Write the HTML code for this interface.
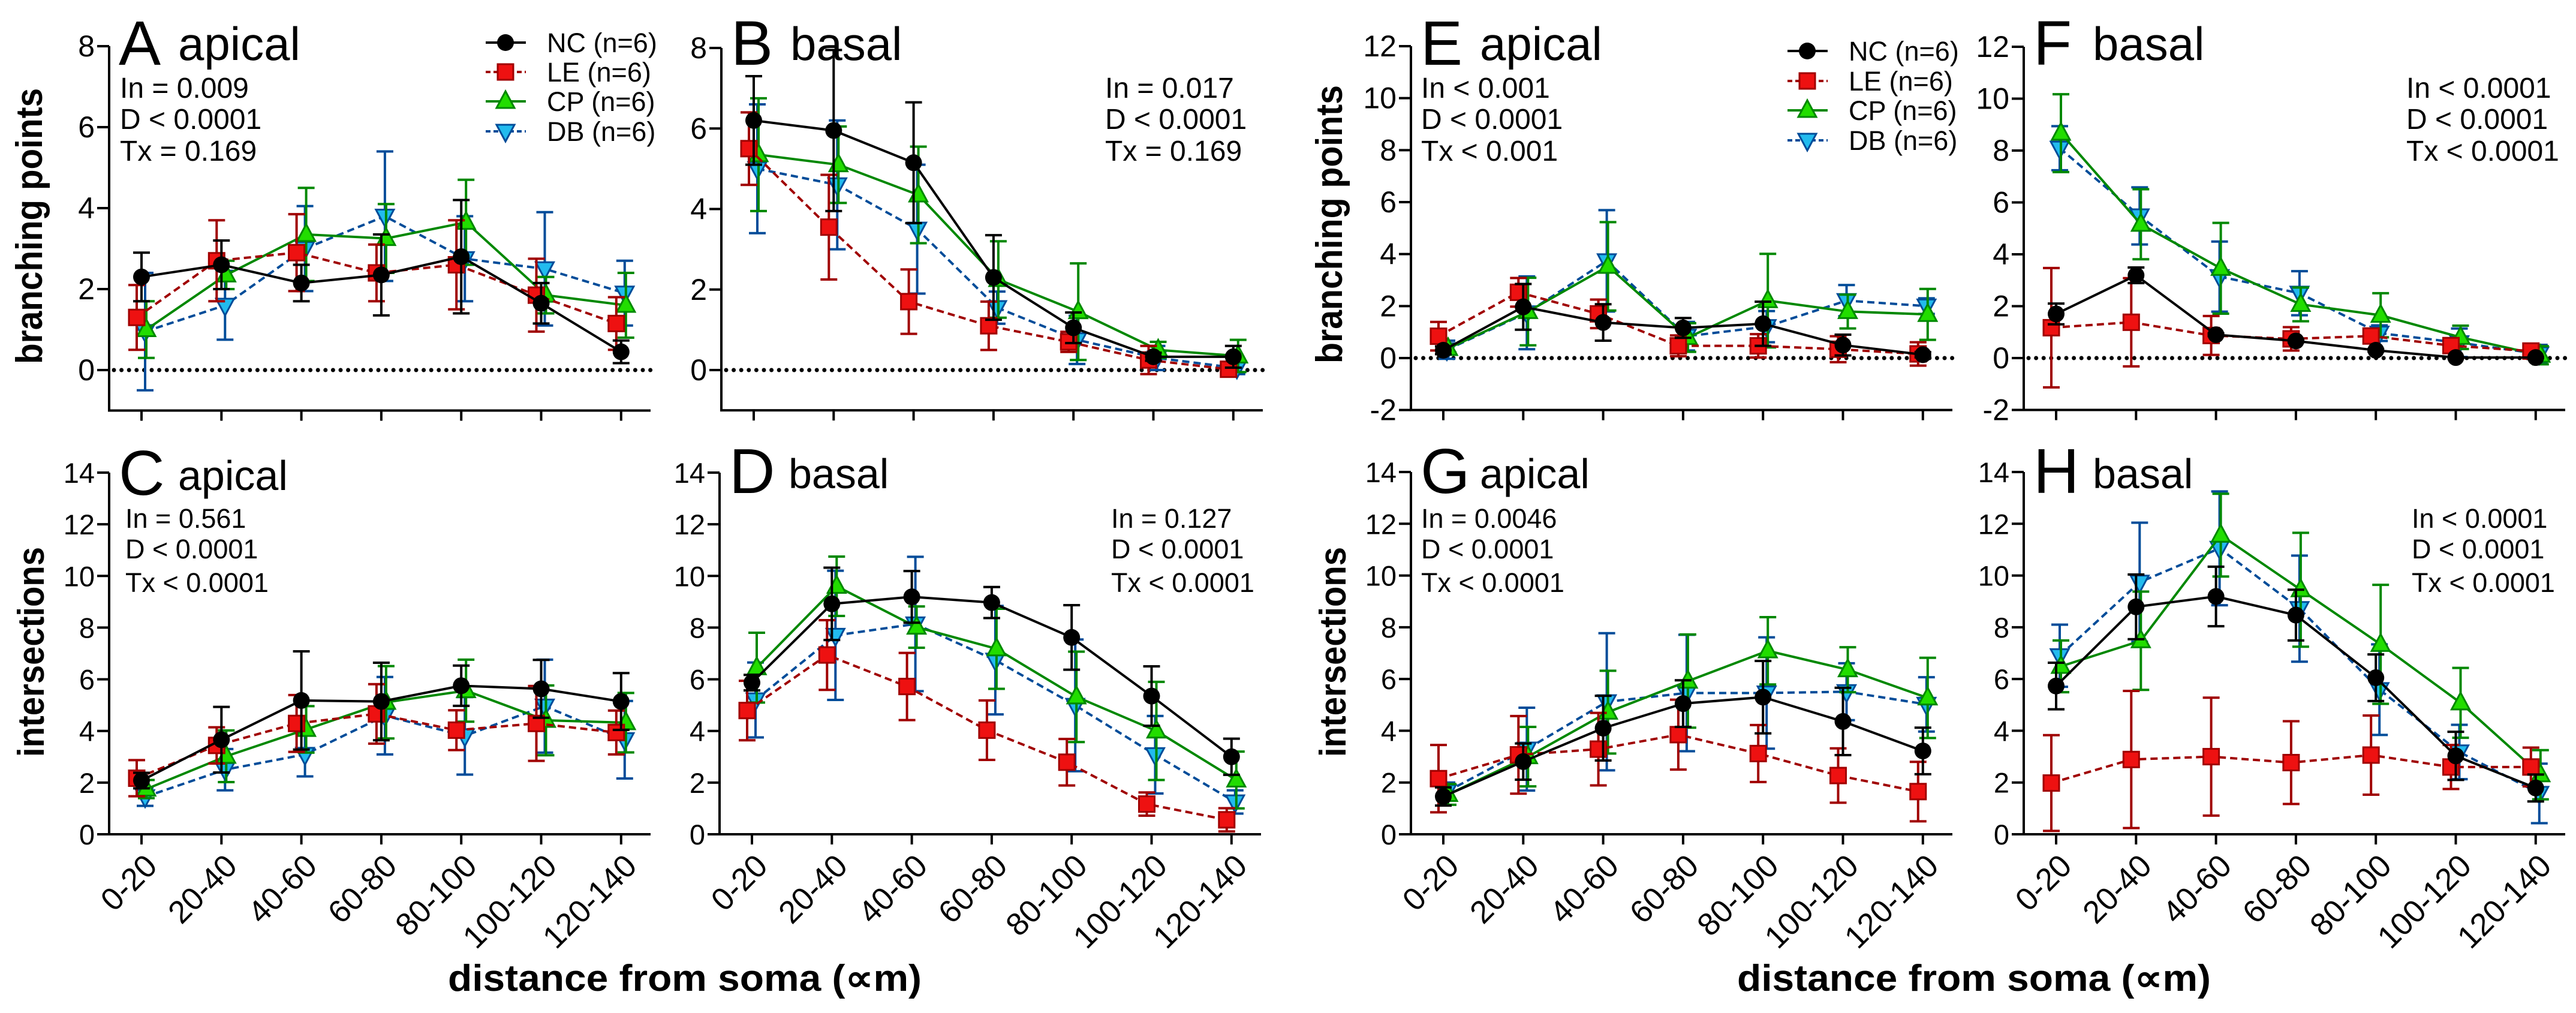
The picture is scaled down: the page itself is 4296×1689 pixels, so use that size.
<!DOCTYPE html>
<html><head><meta charset="utf-8"><style>
html,body{margin:0;padding:0;background:#fff;}
svg{display:block;}
</style></head><body>
<svg id="fig" width="4296" height="1689" viewBox="0 0 4296 1689" xmlns="http://www.w3.org/2000/svg"></svg>
<script>
const categories=["0-20","20-40","40-60","60-80","80-100","100-120","120-140"];
const seriesNames=["NC (n=6)","LE (n=6)","CP (n=6)","DB (n=6)"];
// Panel A: apical branching points
const A_NC=[2.3,2.6,2.15,2.35,2.8,1.65,0.45];const A_NC_sd=[0.6,0.6,0.45,1.0,1.4,0.5,0.28];
const A_LE=[1.3,2.7,2.9,2.4,2.6,1.85,1.15];const A_LE_sd=[0.8,1.0,0.95,0.7,1.1,0.9,0.65];
const A_CP=[1.0,2.35,3.35,3.25,3.65,1.85,1.6];const A_CP_sd=[0.7,0.35,1.15,0.85,1.05,0.45,0.8];
const A_DB=[0.95,1.6,3.0,3.8,2.75,2.5,1.9];const A_DB_sd=[1.45,0.85,1.05,1.6,1.05,1.4,0.8];
// Panel B: basal branching points
const B_NC=[6.2,5.95,5.15,2.3,1.05,0.33,0.33];const B_NC_sd=[1.1,2.0,1.5,1.05,0.38,0.1,0.27];
const B_LE=[5.5,3.55,1.7,1.1,0.7,0.25,0.02];const B_LE_sd=[0.9,1.3,0.8,0.6,0.25,0.35,0.1];
const B_CP=[5.35,5.1,4.35,2.25,1.45,0.5,0.35];const B_CP_sd=[1.4,0.95,1.2,0.95,1.2,0.2,0.4];
const B_DB=[5.0,4.6,3.5,1.55,0.75,0.3,0.05];const B_DB_sd=[1.6,1.6,1.6,0.4,0.6,0.3,0.15];
// Panel C: apical intersections
const C_NC=[2.08,3.66,5.18,5.14,5.75,5.63,5.14];const C_NC_sd=[0.3,1.27,1.9,1.5,0.78,1.12,1.1];
const C_LE=[2.17,3.44,4.29,4.66,4.03,4.29,3.94];const C_LE_sd=[0.7,0.7,1.1,1.15,0.77,1.45,0.85];
const C_CP=[1.75,3.02,4.06,5.11,5.56,4.41,4.32];const C_CP_sd=[0.35,1.0,0.9,1.4,1.2,1.35,1.15];
const C_DB=[1.45,2.5,3.09,4.59,3.81,4.96,3.66];const C_DB_sd=[0.35,0.8,0.85,1.5,1.5,1.8,1.5];
// Panel D: basal intersections
const D_NC=[5.87,8.92,9.19,8.97,7.62,5.35,3.0];const D_NC_sd=[0.3,1.4,1.0,0.6,1.25,1.15,0.7];
const D_LE=[4.79,6.94,5.72,4.03,2.79,1.17,0.56];const D_LE_sd=[1.15,1.35,1.3,1.15,0.9,0.45,0.45];
const D_CP=[6.45,9.6,8.02,7.18,5.32,4.0,2.1];const D_CP_sd=[1.35,1.15,0.8,1.55,1.75,1.9,1.1];
const D_DB=[5.2,7.7,8.14,6.74,4.99,3.08,1.25];const D_DB_sd=[1.45,2.5,2.6,2.1,2.55,1.5,0.45];
// Panel E
const E_NC=[0.3,1.97,1.37,1.16,1.32,0.5,0.13];const E_NC_sd=[0.15,0.88,0.7,0.38,0.85,0.4,0.1];
const E_LE=[0.84,2.53,1.7,0.47,0.47,0.34,0.16];const E_LE_sd=[0.55,0.55,0.55,0.4,0.45,0.5,0.45];
const E_CP=[0.37,1.79,3.53,0.79,2.21,1.79,1.68];const E_CP_sd=[0.15,1.3,1.7,0.55,1.8,0.65,0.98];
const E_DB=[0.32,1.74,3.74,0.84,1.21,2.21,2.0];const E_DB_sd=[0.35,1.4,1.95,0.55,0.6,0.6,0.3];
// Panel F
const F_NC=[1.7,3.19,0.9,0.66,0.3,0.02,0.02];const F_NC_sd=[0.4,0.3,0.05,0.05,0.05,0.02,0.02];
const F_LE=[1.17,1.38,0.87,0.74,0.85,0.48,0.27];const F_LE_sd=[2.3,1.7,0.75,0.45,0.1,0.25,0.1];
const F_CP=[8.67,5.16,3.46,2.07,1.65,0.8,0.11];const F_CP_sd=[1.5,1.35,1.75,0.65,0.85,0.45,0.35];
const F_DB=[8.09,5.48,3.14,2.5,0.96,0.59,0.16];const F_DB_sd=[0.85,1.1,1.35,0.85,0.3,0.55,0.35];
// Panel G
const G_NC=[1.46,2.81,4.1,5.05,5.3,4.36,3.22];const G_NC_sd=[0.35,0.7,1.25,0.9,1.4,1.3,0.9];
const G_LE=[2.15,3.07,3.29,3.85,3.12,2.27,1.65];const G_LE_sd=[1.3,1.5,1.4,1.35,1.1,1.05,1.15];
const G_CP=[1.54,3.0,4.72,5.92,7.09,6.36,5.27];const G_CP_sd=[0.4,1.15,1.6,1.8,1.3,0.87,1.55];
const G_DB=[1.65,3.29,5.12,5.46,5.46,5.51,5.02];const G_DB_sd=[0.35,1.6,2.65,2.25,2.15,1.1,1.05];
// Panel H
const H_NC=[5.73,8.79,9.19,8.47,6.05,3.03,1.79];const H_NC_sd=[0.9,1.25,1.15,0.98,0.9,0.93,0.52];
const H_LE=[1.98,2.89,3.0,2.77,3.06,2.6,2.6];const H_LE_sd=[1.85,2.65,2.28,1.6,1.53,0.85,0.75];
const H_CP=[6.49,7.48,11.56,9.45,7.34,5.08,2.3];const H_CP_sd=[1.0,1.9,1.6,2.2,2.3,1.35,0.95];
const H_DB=[6.9,9.74,11.05,8.72,5.59,3.18,1.58];const H_DB_sd=[1.2,2.3,2.2,2.05,1.75,1.05,1.15];
const topTicks8=[0,2,4,6,8];
const topTicks12=[-2,0,2,4,6,8,10,12];
const bottomTicks=[0,2,4,6,8,10,12,14];

const NS="http://www.w3.org/2000/svg";
const svg=document.getElementById('fig');
const NARROW='"Liberation Sans Narrow","Liberation Sans",sans-serif';
const SANS='"Liberation Sans",sans-serif';
function el(tag,attrs,parent,text){const e=document.createElementNS(NS,tag);for(const k in attrs)e.setAttribute(k,attrs[k]);if(text!==undefined)e.textContent=text;(parent||svg).appendChild(e);return e;}

const styles=[
 {fill:"#000",stroke:"#000",dash:null,shape:"circle"},
 {fill:"#ee1111",stroke:"#a00000",dash:"12 7",shape:"square"},
 {fill:"#22dd00",stroke:"#008800",dash:null,shape:"tri"},
 {fill:"#22bbee",stroke:"#004c99",dash:"12 7",shape:"dtri"}];
const nudge=[0,-8,8,6];

function marker(g,shape,cx,cy,st){
  let m;
  if(shape==="circle")m=el('circle',{cx:cx,cy:cy,r:14,fill:st.fill},g);
  else if(shape==="square")m=el('rect',{x:cx-13,y:cy-13,width:26,height:26,fill:st.fill,stroke:st.stroke,'stroke-width':3},g);
  else if(shape==="tri")m=el('polygon',{points:`${cx},${cy-17} ${cx+15},${cy+11} ${cx-15},${cy+11}`,fill:st.fill,stroke:st.stroke,'stroke-width':3},g);
  else m=el('polygon',{points:`${cx},${cy+17} ${cx+15},${cy-11} ${cx-15},${cy-11}`,fill:st.fill,stroke:st.stroke,'stroke-width':3},g);
  
  
}

function drawPanel(p){
  const g=el('g',{},svg);
  
  
  const k=(p.y0-p.yTop)/p.ymax;
  const y=v=>p.y0-v*k;
  const x=i=>p.ax+54+i*133.3;
  const yBot=y(p.ymin);
  const fam=p.top?NARROW:SANS;
  const ya=el('line',{x1:p.ax,y1:y(p.ymax),x2:p.ax,y2:yBot,stroke:"#000",'stroke-width':4},g);
  
  const xa=el('line',{x1:p.ax-2,y1:yBot,x2:p.ax+903,y2:yBot,stroke:"#000",'stroke-width':4},g);
  
  p.ticks.forEach(t=>{
    el('line',{x1:p.ax-20,y1:y(t),x2:p.ax,y2:y(t),stroke:"#000",'stroke-width':4},g);
    const tl=el('text',{x:p.ax-24,y:y(t)+17,'text-anchor':'end','font-family':fam,'font-size':p.top?50:47},g,String(t));
    
  });
  categories.forEach((c,i)=>{
    el('line',{x1:x(i),y1:yBot,x2:x(i),y2:yBot+17,stroke:"#000",'stroke-width':4},g);
    if(!p.top){
      const ex=x(i)+29,ey=yBot+56;
      const tl=el('text',{x:ex,y:ey,'text-anchor':'end','font-family':SANS,'font-size':53,transform:`rotate(-45 ${ex} ${ey})`},g,c);
      
    }
  });
  if(p.zero){
    const z=el('line',{x1:p.ax+8,y1:y(0),x2:p.ax+903,y2:y(0),stroke:"#000",'stroke-width':7,'stroke-linecap':'round','stroke-dasharray':'0 12.6'},g);
    
  }
  const order=[3,2,1,0];
  order.forEach(s=>{
    const st=styles[s];const vals=p.data[s];const sd=p.sd[s];
    const sg=el('g',{},g);
    
    
    vals.forEach((v,i)=>{
      const cx=x(i)+nudge[s];
      el('line',{x1:cx,y1:y(v-sd[i]),x2:cx,y2:y(v+sd[i]),stroke:st.stroke,'stroke-width':4},sg);
      el('line',{x1:cx-14,y1:y(v+sd[i]),x2:cx+14,y2:y(v+sd[i]),stroke:st.stroke,'stroke-width':4},sg);
      el('line',{x1:cx-14,y1:y(v-sd[i]),x2:cx+14,y2:y(v-sd[i]),stroke:st.stroke,'stroke-width':4},sg);
    });
    const pts=vals.map((v,i)=>`${x(i)+nudge[s]},${y(v)}`).join(' ');
    const pl=el('polyline',{points:pts,fill:'none',stroke:st.stroke,'stroke-width':4},sg);
    if(st.dash)pl.setAttribute('stroke-dasharray',st.dash);
    vals.forEach((v,i)=>marker(sg,st.shape,x(i)+nudge[s],y(v),st));
  });
  const L=el('text',{x:p.ax+16,y:p.letterY,'font-family':fam,'font-size':p.top?105:106},g,p.letter);
  
  const T=el('text',{x:p.ax+(p.top?115:115),y:p.letterY-8,'font-family':fam,'font-size':p.top?78:70},g,p.sub);
  
  const sg=el('g',{},g);
  p.stats.forEach((s,i)=>el('text',{x:p.statX,y:p.statY[i],'font-family':fam,'font-size':p.top?48:45},sg,s));
}

const topY=[163,215,268], botY=[880,931,987];
const panels=[
 {letter:"A",sub:"apical",top:true,ax:182,y0:617,yTop:77,ymin:-1,ymax:8,ticks:topTicks8,zero:true,letterY:108,data:[A_NC,A_LE,A_CP,A_DB],sd:[A_NC_sd,A_LE_sd,A_CP_sd,A_DB_sd],stats:["In = 0.009","D < 0.0001","Tx = 0.169"],statX:200,statY:topY},
 {letter:"B",sub:"basal",top:true,ax:1203,y0:617,yTop:80,ymin:-1,ymax:8,ticks:topTicks8,zero:true,letterY:108,data:[B_NC,B_LE,B_CP,B_DB],sd:[B_NC_sd,B_LE_sd,B_CP_sd,B_DB_sd],stats:["In = 0.017","D < 0.0001","Tx = 0.169"],statX:1843,statY:topY},
 {letter:"E",sub:"apical",top:true,ax:2353,y0:597,yTop:77,ymin:-2,ymax:12,ticks:topTicks12,zero:true,letterY:108,data:[E_NC,E_LE,E_CP,E_DB],sd:[E_NC_sd,E_LE_sd,E_CP_sd,E_DB_sd],stats:["In < 0.001","D < 0.0001","Tx < 0.001"],statX:2370,statY:topY},
 {letter:"F",sub:"basal",top:true,ax:3375,y0:597,yTop:78,ymin:-2,ymax:12,ticks:topTicks12,zero:true,letterY:108,data:[F_NC,F_LE,F_CP,F_DB],sd:[F_NC_sd,F_LE_sd,F_CP_sd,F_DB_sd],stats:["In < 0.0001","D < 0.0001","Tx < 0.0001"],statX:4013,statY:topY},
 {letter:"C",sub:"apical",top:false,ax:182,y0:1391,yTop:788,ymin:0,ymax:14,ticks:bottomTicks,zero:false,letterY:825,data:[C_NC,C_LE,C_CP,C_DB],sd:[C_NC_sd,C_LE_sd,C_CP_sd,C_DB_sd],stats:["In = 0.561","D < 0.0001","Tx < 0.0001"],statX:209,statY:botY},
 {letter:"D",sub:"basal",top:false,ax:1200,y0:1391,yTop:788,ymin:0,ymax:14,ticks:bottomTicks,zero:false,letterY:822,data:[D_NC,D_LE,D_CP,D_DB],sd:[D_NC_sd,D_LE_sd,D_CP_sd,D_DB_sd],stats:["In = 0.127","D < 0.0001","Tx < 0.0001"],statX:1853,statY:botY},
 {letter:"G",sub:"apical",top:false,ax:2353,y0:1391,yTop:787,ymin:0,ymax:14,ticks:bottomTicks,zero:false,letterY:822,data:[G_NC,G_LE,G_CP,G_DB],sd:[G_NC_sd,G_LE_sd,G_CP_sd,G_DB_sd],stats:["In = 0.0046","D < 0.0001","Tx < 0.0001"],statX:2370,statY:botY},
 {letter:"H",sub:"basal",top:false,ax:3375,y0:1391,yTop:787,ymin:0,ymax:14,ticks:bottomTicks,zero:false,letterY:822,data:[H_NC,H_LE,H_CP,H_DB],sd:[H_NC_sd,H_LE_sd,H_CP_sd,H_DB_sd],stats:["In < 0.0001","D < 0.0001","Tx < 0.0001"],statX:4022,statY:botY}
];
panels.forEach(drawPanel);

function legend(x0,rowsY){
  const g=el('g',{},svg);
  
  
  seriesNames.forEach((n,s)=>{
    const st=styles[s];const yy=rowsY[s];
    const eg=el('g',{},g);
    
    
    const ln=el('line',{x1:x0,y1:yy,x2:x0+67,y2:yy,stroke:st.stroke,'stroke-width':4},eg);
    if(st.dash)ln.setAttribute('stroke-dasharray','8 5');
    marker(eg,st.shape,x0+33,yy,st);
    el('text',{x:x0+102,y:yy+16,'font-family':NARROW,'font-size':45},eg,n);
  });
}
legend(810,[71,120,169,219]);
legend(2981,[85,135,184,234]);

function ytitle(cx,cy,len,txt){
  const t=el('text',{x:cx,y:cy,'text-anchor':'middle','font-family':SANS,'font-weight':'bold','font-size':62,textLength:len,lengthAdjust:'spacingAndGlyphs',transform:`rotate(-90 ${cx} ${cy})`},svg,txt);
  
  
}
ytitle(70,377,460,"branching points");
ytitle(2238,374,464,"branching points");
ytitle(73,1087,350,"intersections");
ytitle(2244,1087,350,"intersections");
function xtitle(x1,txt){
  const t=el('text',{x:x1,y:1652,'font-family':SANS,'font-weight':'bold','font-size':62,textLength:790,lengthAdjust:'spacingAndGlyphs'},svg,txt);
  
  
}
xtitle(747,"distance from soma (∝m)");
xtitle(2897,"distance from soma (∝m)");
</script>
</body></html>
